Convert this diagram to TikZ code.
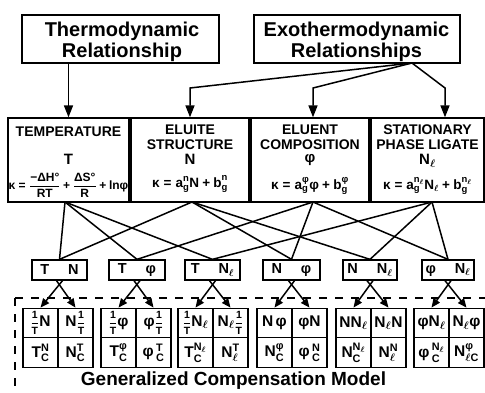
\documentclass[tikz,border=0pt]{standalone}
\usepackage{amsmath}
\usepackage{fontspec}
\setmainfont{Liberation Sans}
\usetikzlibrary{arrows.meta,calc}
\newcommand{\mytx}[1]{\text{#1}}
\newcommand{\myfr}[2]{\mbox{\fontsize{10.5}{11}\selectfont$\genfrac{}{}{1pt}{0}{\mytx{#1}}{\mytx{#2}}$}}
\newcommand{\mydfr}[2]{\genfrac{}{}{0.8pt}{0}{\mytx{#1}}{\mytx{#2}}}
\newcommand{\Nl}{\mytx{N}_{\boldsymbol\ell}}
\newcommand{\myeq}{\mathrel{\mytx{=}}}
\newcommand{\mypl}{\mathbin{\mytx{+}}}
\newcommand{\myquad}[6]{%
  \node[cell] (#1a) at (#2+17.5,323) {#3};
  \node[cell] (#1b) at (#2+52.5,323) {#4};
  \node[cell] (#1c) at (#2+17.5,352.5) {#5};
  \node[cell] (#1d) at (#2+52.5,352.5) {#6};}
\begin{document}
\begin{tikzpicture}[x=1pt,y=-1pt,
  box/.style={draw, line width=1.3pt, inner sep=0pt},
  ttl/.style={font=\fontsize{20}{21}\selectfont\bfseries, inner sep=0pt, anchor=base},
  hdr/.style={font=\fontsize{14}{15}\selectfont\bfseries, inner sep=0pt, anchor=base},
  sym/.style={font=\fontsize{15}{16}\selectfont\bfseries, inner sep=0pt},
  eqn/.style={font=\fontsize{13.5}{14}\selectfont\bfseries, inner sep=0pt},
  pairbox/.style={box, minimum height=20pt, font=\fontsize{14.5}{15}\selectfont\bfseries},
  cell/.style={draw, line width=1.3pt, minimum width=35pt, minimum height=29.5pt, inner sep=0pt, font=\fontsize{15.5}{16}\selectfont\bfseries},
  conn/.style={line width=1.5pt},
  arr/.style={line width=1.5pt, -{Triangle[length=12pt,width=9pt]}},
  arrs/.style={line width=1.5pt, -{Triangle[length=9pt,width=7.5pt]}},
  dashln/.style={line width=1.6pt, dash pattern=on 8pt off 8pt}]
\useasboundingbox (0,0) rectangle (485,393);
\fill[white] (0,0) rectangle (485,393);

% top boxes
\node[box, minimum width=197pt, minimum height=48pt] (thermo) at (120.5,39) {};
\node[ttl] (thermoA) at (122,37) {Thermodynamic};
\node[ttl] (thermoB) at (122,58) {Relationship};
\node[box, minimum width=206pt, minimum height=48pt] (exo) at (357,39) {};
\node[ttl] (exoA) at (356.5,37) {Exothermodynamic};
\node[ttl] (exoB) at (356.5,58) {Relationships};

% big boxes
\node[box, minimum width=121pt, minimum height=84pt] (temp) at (68.5,160) {};
\node[box, minimum width=118pt, minimum height=84pt] (elu) at (190,160) {};
\node[box, minimum width=118pt, minimum height=84pt] (eluent) at (310,160) {};
\node[box, minimum width=113pt, minimum height=84pt] (stat) at (427.5,160) {};

\node[hdr] (tempH) at (68.5,137) {TEMPERATURE};
\node[hdr] (eluH1) at (190,135) {ELUITE};
\node[hdr] (eluH2) at (190,149.5) {STRUCTURE};
\node[hdr] (entH1) at (310,135) {ELUENT};
\node[hdr] (entH2) at (310,149.5) {COMPOSITION};
\node[hdr] (statH1) at (427.5,135) {STATIONARY};
\node[hdr] (statH2) at (427.5,149.5) {PHASE LIGATE};

\node[sym, anchor=base] (tempS) at (68.5,165) {T};
\node[sym, anchor=base] (eluS) at (190,165) {N};
\node[sym, anchor=base] (entS) at (310,163) {φ};
\node[sym, anchor=base] (statS) at (427.5,165) {$\Nl$};

\node[eqn, font=\fontsize{12}{13}\selectfont\bfseries] (tempE) at (68.5,185) {$\mytx{κ}\myeq\mydfr{−ΔH°}{RT}\mypl\mydfr{ΔS°}{R}\mypl\mytx{lnφ}$};
\node[eqn] (eluE) at (190,184) {$\mytx{κ}\myeq\mytx{a}^{\mytx{n}}_{\mytx{g}}\mytx{N}\mypl\mytx{b}^{\mytx{n}}_{\mytx{g}}$};
\node[eqn] (entE) at (310,186) {$\mytx{κ}\myeq\mytx{a}^{\mytx{φ}}_{\mytx{g}}\mytx{φ}\mypl\mytx{b}^{\mytx{φ}}_{\mytx{g}}$};
\node[eqn] (statE) at (427.5,186) {$\mytx{κ}\myeq\mytx{a}^{\mytx{n}_{\boldsymbol\ell}}_{\mytx{g}}\Nl\mypl\mytx{b}^{\mytx{n}_{\boldsymbol\ell}}_{\mytx{g}}$};

% arrows from top boxes
\draw[arr] (thermo.south -| temp.north) -- (temp.north);
\coordinate (ex) at (412,63);
\coordinate (kx) at (0,88);
\coordinate (c313) at (313,0);
\coordinate (c445) at (445,0);
\draw[arr] (ex) -- (elu.north |- kx) -- (elu.north);
\draw[arr] (ex) -- (c313 |- kx) -- (eluent.north -| c313);
\draw[arr] (ex) -- (c445 |- kx) -- (stat.north -| c445);

% pair boxes
\node[pairbox, minimum width=55pt] (pTN) at (59.5,270) {T\hspace{1.3em}N};
\node[pairbox, minimum width=56pt] (pTp) at (137,270) {T\hspace{1.3em}φ};
\node[pairbox, minimum width=55pt] (pTL) at (212.5,270) {T\hspace{1.3em}$\Nl$};
\node[pairbox, minimum width=57pt] (pNp) at (291.5,270) {N\hspace{1.3em}φ};
\node[pairbox, minimum width=54pt] (pNL) at (370,270) {N\hspace{1.3em}$\Nl$};
\node[pairbox, minimum width=52pt] (ppL) at (448,270) {φ\hspace{1.3em}$\Nl$};

% connectors big boxes -> pairs
\coordinate (tb) at (65,202);
\coordinate (eb) at (192,202);
\coordinate (cb) at (313,202);
\coordinate (sb) at (432,202);
\foreach \p in {pTN,pTp,pTL} \draw[conn] (tb) -- (\p.north);
\foreach \p in {pTN,pNp,pNL} \draw[conn] (eb) -- (\p.north);
\foreach \p in {pTp,pNp,ppL} \draw[conn] (cb) -- (\p.north);
\foreach \p in {pTL,pNL,ppL} \draw[conn] (sb) -- (\p.north);

% dashed frame
\coordinate (dl) at (15,298);
\coordinate (dr) at (485,298);
\coordinate (db) at (15,393);
\draw[dashln] (dl) -- (dr);
\draw[dashln] (dl) -- (db);

% quads
\myquad{qA}{23}{$\myfr{1}{T}\mytx{N}$}{$\mytx{N}\myfr{1}{T}$}{$\mytx{T}^{\mytx{N}}_{\mytx{C}}$}{$\mytx{N}^{\mytx{T}}_{\mytx{C}}$}
\myquad{qB}{101}{$\myfr{1}{T}\mytx{φ}$}{$\mytx{φ}\myfr{1}{T}$}{$\mytx{T}^{\mytx{φ}}_{\mytx{C}}$}{${\mytx{φ}\,}^{\mytx{T}}_{\mytx{C}}$}
\myquad{qC}{178}{$\myfr{1}{T}\Nl$}{$\Nl\myfr{1}{T}$}{$\mytx{T}^{\Nl}_{\mytx{C}}$}{$\Nl^{\mytx{T}}$}
\myquad{qD}{257}{$\mytx{N}\,\mytx{φ}$}{$\mytx{φ}\mytx{N}$}{$\mytx{N}^{\mytx{φ}}_{\mytx{C}}$}{${\mytx{φ}\,}^{\mytx{N}}_{\mytx{C}}$}
\myquad{qE}{336}{$\mytx{N}\Nl$}{$\Nl\mytx{N}$}{$\mytx{N}^{\Nl}_{\mytx{C}}$}{$\Nl^{\mytx{N}}$}
\myquad{qF}{414}{$\mytx{φ}\Nl$}{$\Nl\mytx{φ}$}{${\mytx{φ}\,}^{\Nl}_{\mytx{C}}$}{$\mytx{N}^{\mytx{φ}}_{\boldsymbol\ell\mytx{C}}$}

% arrows pairs -> quads
\foreach \p/\q in {pTN/qA,pTp/qB,pTL/qC,pNp/qD,pNL/qE,ppL/qF}{
  \draw[arrs] ($(\p.south)+(3,0)$) -- (\q a.north);
  \draw[arrs] ($(\p.south)+(-3,0)$) -- (\q b.north);
}

\node[font=\fontsize{19}{20}\selectfont\bfseries, inner sep=0pt, anchor=base] (gcm) at (233.5,385) {Generalized Compensation Model};
\end{tikzpicture}
\end{document}
